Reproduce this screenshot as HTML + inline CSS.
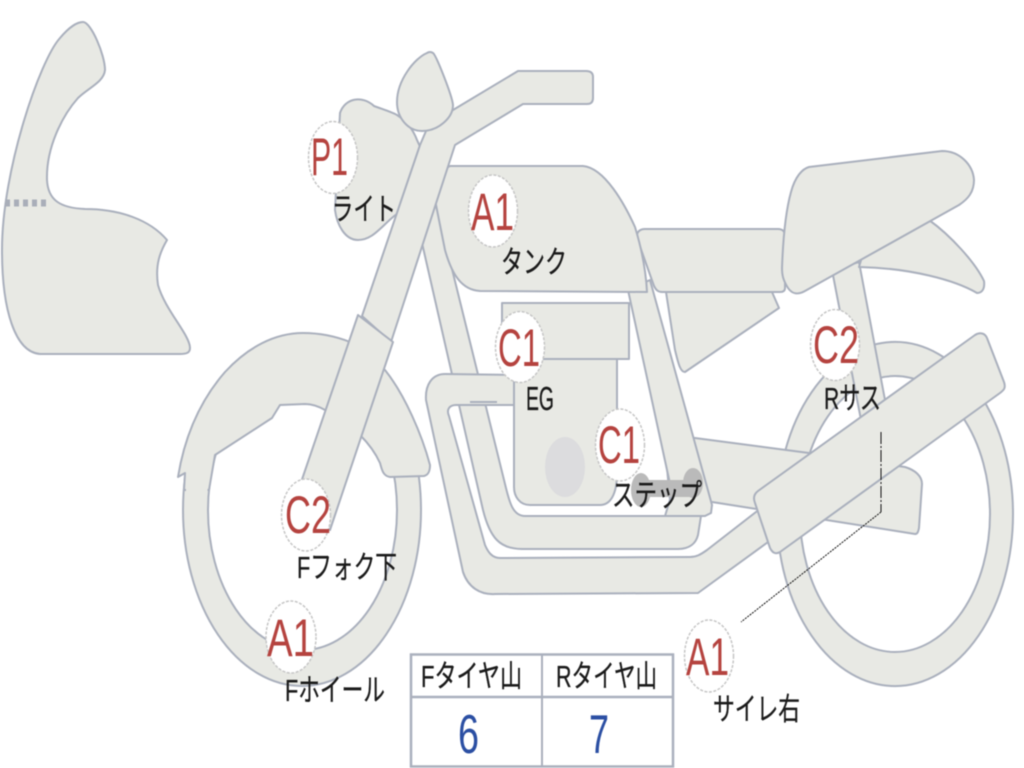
<!DOCTYPE html>
<html><head><meta charset="utf-8"><style>
html,body{margin:0;padding:0;background:#fff}
svg{display:block;filter:blur(.4px)}
.s{fill:#e8e9e4;stroke:#aab0bd;stroke-width:2;stroke-linejoin:round}
.c{fill:#fff;stroke:#c6c6c6;stroke-width:1.5;stroke-dasharray:3 1.5}
.r{font-family:"Liberation Sans",sans-serif;font-size:53px;fill:#b5433f}
.l{font-family:"Liberation Sans","Noto Sans CJK JP",sans-serif;font-size:31px;fill:#1a1a1a;stroke:#1a1a1a;stroke-width:.3}
.b{font-family:"Liberation Sans",sans-serif;font-size:55px;fill:#2b4fa3}
</style></head><body>
<svg width="1024" height="768" viewBox="0 0 1024 768" xmlns="http://www.w3.org/2000/svg">
<!-- fairing -->
<path class="s" d="M83,22 C91,22 105,55 105,70 C104,82 88,88 78,98 C62,116 46,148 47,180 C48,200 60,208 85,209 C120,209 150,220 167,240 C160,252 155,265 158,285 C165,310 190,335 190,348 C190,353 186,354 180,354 L40,354 C15,352 2,310 2,250 C2,170 40,60 60,38 C70,26 78,22 83,22 Z"/>
<line x1="5" y1="203" x2="50" y2="203" stroke="#a9aeb9" stroke-width="7" stroke-dasharray="5 4"/>
<!-- front wheel -->
<path class="s" fill-rule="evenodd" d="M183,510 A119,176 0 1 1 421,510 A119,176 0 1 1 183,510 Z M208,510 A94.500,140 0 1 0 397,510 A94.500,140 0 1 0 208,510 Z"/>
<!-- rear wheel -->
<path class="s" fill-rule="evenodd" d="M777,514 A118,172 0 1 1 1013,514 A118,172 0 1 1 777,514 Z M800,514 A95,138 0 1 0 990,514 A95,138 0 1 0 800,514 Z"/>
<!-- front fender -->
<path class="s" d="M178,477 C184,440 198,403 225,372 C248,347 275,333 303,333 C320,333 335,336 350,342 L385,370 C405,395 422,435 430,465 C430,472 428,475 424,476 L390,477 C383,476 382,470 380,463 C375,452 368,443 360,435 L325,410 C318,406 312,404 305,404 L280,405 L272,418 L215,455 L209,490 L184,490 L185,473 Z"/>
<rect x="186" y="484" width="21.500" height="12" fill="#e8e9e4"/>
<!-- lower frame -->
<path class="s" d="M422,243 L483,510 C490,538 500,549 522,549 L678,549 C690,549 696,543 698,535 L701,516 L525,516 C512,516 509,500 505,484 L435,200 Z"/>
<!-- exhaust -->
<path class="s" d="M520,375 L445,374 C432,374 425,385 426,400 L463,572 C468,587 480,595 495,594 L698,593 L775,537 L765,505 L707,550 C700,555 696,557 690,557 L500,558 C492,558 488,552 485,545 L449,416 C446,409 450,405 456,405 L520,405 Z"/>
<line x1="470" y1="402" x2="497" y2="402" stroke="#aab0bd" stroke-width="2"/>
<!-- engine -->
<path class="s" d="M514,355 L617,355 L617,473 C617,495 610,505 600,505 L530,505 C520,505 514,497 514,487 Z"/>
<rect class="s" x="502" y="303" width="127" height="56"/>
<ellipse cx="565" cy="467" rx="20" ry="30" fill="#dcdcde"/>
<!-- rear shock -->
<path class="s" d="M832,270 L859,262 L885,400 L862,425 Z"/>
<!-- swing arm -->
<path class="s" d="M664,436 L695,438 L809,453 L905,467 C915,470 922,476 922,484 L919,528 C918,533 917,534 915,534 L712,502 L670,500 Z"/>
<!-- seat stay -->
<path class="s" d="M628,290 L650,280 L712,505 L711,513 L705,516 L665,516 L672,493 Z"/>
<!-- battery -->
<path class="s" d="M666,292 L772,292 L779,308 L685,372 C680,372 678,362 675,350 Z"/>
<!-- side cover -->
<path class="s" d="M645,229 L778,229 C783,229 785,232 785,236 L785,288 C785,291 783,292 780,292 L662,292 C658,292 656,290 654,286 L637,238 C636,232 640,229 645,229 Z"/>
<!-- tail -->
<path class="s" d="M929,220 C950,235 975,262 984,281 C985,289 982,293 977,293 C955,280 910,268 859,267 L870,230 Z"/>
<!-- seat -->
<path class="s" d="M809,167 L942,151 C960,151 973,165 974,180 C974,192 968,199 959,205 L805,291 C798,295 792,294 788,288 C783,280 782,275 782,268 C783,240 786,210 791,192 C795,177 802,169 809,167 Z"/>
<!-- tank -->
<path class="s" d="M450,166 L583,166 C605,168 625,205 635,227 C642,250 646,272 647,292 L480,291 C462,290 452,275 445,250 L435,200 C438,180 441,170 450,166 Z"/>
<!-- headlight -->
<path class="s" d="M340,113 C345,98 362,95 374,106 C385,110 392,112 397,115 C408,122 414,132 417,140 C425,155 424,172 417,190 C410,203 402,210 393,217 C380,228 372,240 358,240 C345,240 337,225 335,210 Z"/>
<!-- fork & handlebar -->
<path class="s" d="M362,316 L420,145 L426,131 L453,110 L518,71 L586,71 Q593,71 593,77 L593,98 Q593,104 587,104 L523,104 L455,145 L391,342 Z"/>
<!-- lower fork -->
<path class="s" d="M358,315 L393,342 L330,530 L295,500 Z"/>
<!-- speedo -->
<path class="s" d="M427,53 C415,58 397,80 397,102 C397,118 408,131 422,131 C438,131 453,118 453,105 C452,95 436,55 433,53 Q430,51 427,53 Z"/>
<!-- step -->
<g fill="#bababa">
<ellipse cx="641" cy="490" rx="10" ry="17"/>
<ellipse cx="693" cy="483" rx="10" ry="15"/>
<rect x="641" y="480" width="52" height="17"/>
</g>
<!-- silencer -->
<path class="s" d="M975,335 C980,332 985,333 987,338 L1004,382 C1006,388 1004,390 1000,393 L780,552 C775,555 772,552 770,548 L755,503 C753,498 754,494 758,491 Z"/>
<!-- leader -->
<path d="M881,432 V512" fill="none" stroke="#111" stroke-width="1" stroke-dasharray="12 2 2 2"/>
<path d="M881,512 L741,622" fill="none" stroke="#111" stroke-width="1" stroke-dasharray="2 1"/>
<!-- circles -->
<ellipse class="c" cx="333" cy="157.500" rx="24.500" ry="36"/>
<ellipse class="c" cx="493" cy="211" rx="24.500" ry="36"/>
<ellipse class="c" cx="520" cy="347" rx="24.500" ry="35.500"/>
<ellipse class="c" cx="620" cy="445" rx="24.500" ry="36"/>
<ellipse class="c" cx="835" cy="345" rx="24.500" ry="35.500"/>
<ellipse class="c" cx="306" cy="515" rx="24.500" ry="36"/>
<ellipse class="c" cx="291" cy="637" rx="25" ry="36"/>
<ellipse class="c" cx="709" cy="656" rx="24.500" ry="36"/>
<!-- codes -->
<text class="r" x="311" y="175" textLength="37" lengthAdjust="spacingAndGlyphs">P1</text>
<text class="r" x="471" y="230" textLength="43" lengthAdjust="spacingAndGlyphs">A1</text>
<text class="r" x="498" y="366" textLength="42" lengthAdjust="spacingAndGlyphs">C1</text>
<text class="r" x="598" y="463" textLength="42" lengthAdjust="spacingAndGlyphs">C1</text>
<text class="r" x="813" y="363" textLength="46" lengthAdjust="spacingAndGlyphs">C2</text>
<text class="r" x="285" y="533" textLength="46" lengthAdjust="spacingAndGlyphs">C2</text>
<text class="r" x="267" y="656" textLength="47" lengthAdjust="spacingAndGlyphs">A1</text>
<text class="r" x="686" y="675" textLength="43" lengthAdjust="spacingAndGlyphs">A1</text>
<!-- labels -->
<text class="l" x="332" y="220" textLength="64" lengthAdjust="spacingAndGlyphs">ライト</text>
<text class="l" x="501" y="273" textLength="66" lengthAdjust="spacingAndGlyphs">タンク</text>
<text class="l" x="526" y="410" style="font-size:33px" textLength="28" lengthAdjust="spacingAndGlyphs">EG</text>
<text class="l" x="612" y="506" textLength="90" lengthAdjust="spacingAndGlyphs">ステップ</text>
<text class="l" x="824" y="409" textLength="57" lengthAdjust="spacingAndGlyphs">Rサス</text>
<text class="l" x="297" y="578" textLength="100" lengthAdjust="spacingAndGlyphs">Fフォク下</text>
<text class="l" x="285" y="701" textLength="100" lengthAdjust="spacingAndGlyphs">Fホイール</text>
<text class="l" x="713" y="720" textLength="87" lengthAdjust="spacingAndGlyphs">サイレ右</text>
<!-- table -->
<rect x="411" y="654.500" width="262" height="112" fill="#fff" stroke="#aab0bd" stroke-width="2.500"/>
<line x1="411" y1="697" x2="673" y2="697" stroke="#aab0bd" stroke-width="2.500"/>
<line x1="542" y1="654" x2="542" y2="767" stroke="#aab0bd" stroke-width="2"/>
<text class="l" x="421" y="687" textLength="101" lengthAdjust="spacingAndGlyphs">Fタイヤ山</text>
<text class="l" x="556" y="687" textLength="101" lengthAdjust="spacingAndGlyphs">Rタイヤ山</text>
<text class="b" x="458" y="753" textLength="21" lengthAdjust="spacingAndGlyphs">6</text>
<text class="b" x="589" y="753" textLength="20" lengthAdjust="spacingAndGlyphs">7</text>
</svg>
</body></html>
